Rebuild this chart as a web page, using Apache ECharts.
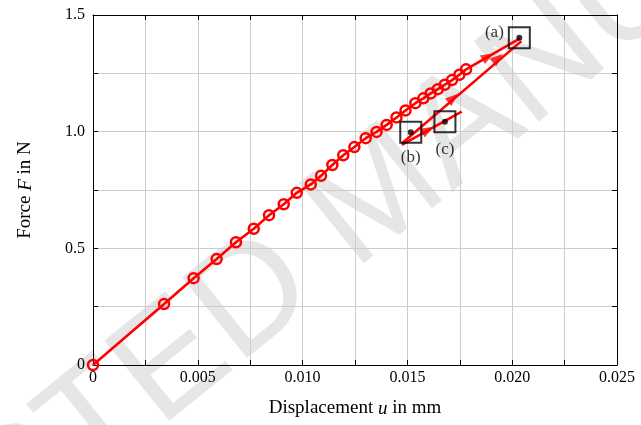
<!DOCTYPE html>
<html><head><meta charset="utf-8">
<script src="https://cdn.jsdelivr.net/npm/echarts@6/dist/echarts.min.js"></script>
<style>html,body{margin:0;padding:0;background:#fff}#c{width:641px;height:425px}</style>
</head><body><div id="c"></div>
<script>
// Loading curve (circle markers)
const loadX = [0, 0.00339, 0.00480, 0.00590, 0.00682, 0.00767, 0.00840, 0.00910, 0.00972,
  0.01039, 0.01088, 0.01142, 0.01194, 0.01247, 0.01301, 0.01353, 0.01401, 0.01448, 0.01491,
  0.01538, 0.01576, 0.01611, 0.01645, 0.01678, 0.01713, 0.01748, 0.01780];
const loadY = [0, 0.261, 0.372, 0.454, 0.526, 0.584, 0.642, 0.689, 0.738,
  0.774, 0.811, 0.857, 0.899, 0.934, 0.972, 0.999, 1.029, 1.061, 1.091,
  1.122, 1.143, 1.164, 1.182, 1.201, 1.221, 1.244, 1.267];
// Continuation to (a)
const pathAX = [0.01780, 0.02037];
const pathAY = [1.267, 1.400];
// Path from near (b) up to (a)
const pathBX = [0.01473, 0.02044];
const pathBY = [0.949, 1.388];
// Path from near (b) to beyond (c)
const pathCX = [0.01473, 0.01759];
const pathCY = [0.943, 1.086];
// Direction arrows (position + which path they sit on)
const arrowX = [0.01885, 0.01932, 0.01718, 0.01598];
const arrowY = [1.322, 1.315, 1.144, 1.007];
const arrowPath = ['A', 'B', 'B', 'C'];
// Marked states
const pointLabels = ['(a)', '(b)', '(c)'];
const pointX = [0.02034, 0.01516, 0.01679];
const pointY = [1.403, 0.997, 1.043];
// Tick labels
const xTickValues = [0, 0.005, 0.010, 0.015, 0.020, 0.025];
const xTickLabels = ['0', '0.005', '0.010', '0.015', '0.020', '0.025'];
const yTickValues = [0, 0.5, 1.0, 1.5];
const yTickLabels = ['0', '0.5', '1.0', '1.5'];
// Watermark words
const watermarkWords = ['ACCEPTED', 'MANUSCRIPT'];

const FONT = '"Liberation Serif", "Times New Roman", serif';
const RED = '#ff0000';
const zip = (xs, ys) => xs.map((x, i) => [x, ys[i]]);
const paths = { A: [pathAX, pathAY], B: [pathBX, pathBY], C: [pathCX, pathCY] };

function tickLabel(values, labels) {
  return v => {
    for (let i = 0; i < values.length; i++) if (Math.abs(v - values[i]) < 1e-9) return labels[i];
    return '';
  };
}

const chart = echarts.init(document.getElementById('c'), null, { renderer: 'canvas' });
const lineSeries = (xs, ys) => ({
  type: 'line', data: zip(xs, ys), showSymbol: false, symbol: 'none',
  lineStyle: { color: RED, width: 2.6 }, z: 3, animation: false
});
const labelPos = [
  { position: 'left', distance: 4, offset: [0, -5] },
  { position: 'bottom', distance: 5 },
  { position: 'bottom', distance: 8 }
];

// watermark geometry
const WM_SIZE = 150, WM_ANG = 39 * Math.PI / 180;
const gap = [312, 252];
const dirx = Math.cos(WM_ANG), diry = -Math.sin(WM_ANG);
const half = 0.14 * WM_SIZE;
const wmStyle = { fontFamily: '"Liberation Sans", Arial, sans-serif', fontSize: WM_SIZE, fill: '#e6e6e6', verticalAlign: 'middle' };

const option = {
  animation: false,
  backgroundColor: '#fff',
  graphic: [
    { type: 'text', z: -10, zlevel: 0, silent: true, x: gap[0] - dirx * half, y: gap[1] - diry * half, rotation: WM_ANG,
      style: Object.assign({ text: watermarkWords[0], align: 'right' }, wmStyle) },
    { type: 'text', z: -10, zlevel: 0, silent: true, x: gap[0] + dirx * half, y: gap[1] + diry * half, rotation: WM_ANG,
      style: Object.assign({ text: watermarkWords[1], align: 'left' }, wmStyle) }
  ],
  grid: { left: 93, right: 24, top: 15, bottom: 60 },
  xAxis: [{
    type: 'value', min: 0, max: 0.025, interval: 0.0025,
    name: 'Displacement {i|u} in mm', nameLocation: 'middle', nameGap: 34,
    nameTextStyle: { fontFamily: FONT, fontSize: 19, color: '#000',
      rich: { i: { fontFamily: FONT, fontSize: 19, fontStyle: 'italic', color: '#000' } } },
    axisLine: { onZero: false, lineStyle: { color: '#000', width: 1 } },
    axisTick: { inside: true, length: 5, lineStyle: { color: '#000' } },
    axisLabel: { formatter: tickLabel(xTickValues, xTickLabels), fontFamily: FONT, fontSize: 16, color: '#000', margin: 5, showMaxLabel: true, showMinLabel: true },
    splitLine: { show: true, lineStyle: { color: '#cccccc', width: 1 } }
  }, {
    type: 'value', position: 'top', min: 0, max: 0.025, interval: 0.0025,
    axisLine: { onZero: false, lineStyle: { color: '#000', width: 1 } },
    axisTick: { inside: true, length: 5, lineStyle: { color: '#000' } },
    axisLabel: { show: false }, splitLine: { show: false }
  }],
  yAxis: [{
    type: 'value', min: 0, max: 1.5, interval: 0.25,
    name: 'Force {i|F} in N', nameLocation: 'middle', nameGap: 58, nameRotate: 90,
    nameTextStyle: { fontFamily: FONT, fontSize: 19, color: '#000',
      rich: { i: { fontFamily: FONT, fontSize: 19, fontStyle: 'italic', color: '#000' } } },
    axisLine: { onZero: false, lineStyle: { color: '#000', width: 1 } },
    axisTick: { inside: true, length: 5, lineStyle: { color: '#000' } },
    axisLabel: { formatter: tickLabel(yTickValues, yTickLabels), fontFamily: FONT, fontSize: 16, color: '#000', margin: 8, showMaxLabel: true, showMinLabel: true },
    splitLine: { show: true, lineStyle: { color: '#cccccc', width: 1 } }
  }, {
    type: 'value', position: 'right', min: 0, max: 1.5, interval: 0.25,
    axisLine: { onZero: false, lineStyle: { color: '#000', width: 1 } },
    axisTick: { inside: true, length: 5, lineStyle: { color: '#000' } },
    axisLabel: { show: false }, splitLine: { show: false }
  }],
  series: [
    lineSeries(pathAX, pathAY),
    lineSeries(pathBX, pathBY),
    lineSeries(pathCX, pathCY),
    {
      type: 'line', data: zip(loadX, loadY), symbol: 'circle', symbolSize: 10, showAllSymbol: true,
      lineStyle: { color: RED, width: 2.6 },
      itemStyle: { color: 'rgba(255,255,255,0)', borderColor: RED, borderWidth: 2.5 },
      z: 4
    },
    {
      type: 'scatter', id: 'arrows', symbol: 'triangle', symbolSize: [10, 13],
      data: zip(arrowX, arrowY), itemStyle: { color: RED }, z: 5
    },
    {
      type: 'scatter', symbol: 'rect', symbolSize: 21,
      data: zip(pointX, pointY).map((p, i) => ({ value: p, label: labelPos[i] })),
      itemStyle: { color: 'rgba(0,0,0,0)', borderColor: '#000', borderWidth: 2 },
      label: { show: true, formatter: p => pointLabels[p.dataIndex], fontFamily: FONT, fontSize: 17, color: '#000' },
      z: 6
    },
    {
      type: 'scatter', symbol: 'circle', symbolSize: 6,
      data: zip(pointX, pointY), itemStyle: { color: '#000' }, z: 7
    }
  ]
};
chart.setOption(option);

// Orient each arrow along its path using the chart's own scales
const rot = arrowPath.map(k => {
  const [xs, ys] = paths[k];
  const a = chart.convertToPixel({ xAxisIndex: 0, yAxisIndex: 0 }, [xs[0], ys[0]]);
  const b = chart.convertToPixel({ xAxisIndex: 0, yAxisIndex: 0 }, [xs[1], ys[1]]);
  const ang = Math.atan2(a[1] - b[1], b[0] - a[0]) * 180 / Math.PI;
  return ang - 90;
});
chart.setOption({ series: [{ id: 'arrows', data: zip(arrowX, arrowY).map((p, i) => ({ value: p, symbolRotate: rot[i] })) }] });
</script>
</body></html>
